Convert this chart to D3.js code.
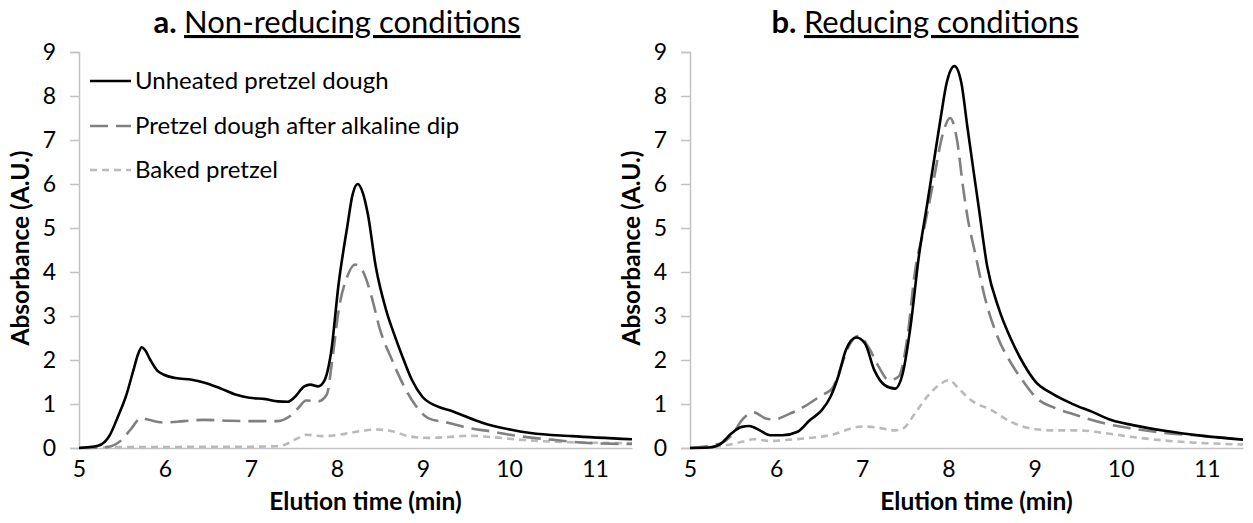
<!DOCTYPE html>
<html><head><meta charset="utf-8">
<script src="https://cdn.jsdelivr.net/npm/d3@7/dist/d3.min.js"></script>
<style>
html,body{margin:0;padding:0;background:#fff;}
svg{display:block;}
text{font-family:Lato,"Open Sans",sans-serif;fill:#000;}
</style></head>
<body>
<svg id="chart" width="1253" height="523"></svg>
<script>
// ---------- DATA ----------
const xTicks = [5, 6, 7, 8, 9, 10, 11];
const yTicks = [0, 1, 2, 3, 4, 5, 6, 7, 8, 9];
const seriesNames = ["Unheated pretzel dough", "Pretzel dough after alkaline dip", "Baked pretzel"];
const panelTitles = [["a.", "Non-reducing conditions"], ["b.", "Reducing conditions"]];

// Panel a: non-reducing  [time (min), absorbance]
const nrUnheated = [[5.0,0],[5.22,0.05],[5.36,0.3],[5.45,0.7],[5.55,1.2],[5.63,1.75],[5.69,2.15],[5.73,2.29],[5.77,2.22],[5.83,2.0],[5.91,1.76],[5.98,1.67],[6.12,1.59],[6.31,1.55],[6.45,1.49],[6.64,1.36],[6.83,1.21],[6.98,1.14],[7.17,1.11],[7.31,1.06],[7.43,1.05],[7.5,1.14],[7.62,1.4],[7.69,1.44],[7.78,1.40],[7.85,1.52],[7.93,2.16],[8.02,3.75],[8.12,5.04],[8.18,5.75],[8.24,6.0],[8.3,5.8],[8.36,5.3],[8.45,4.13],[8.57,3.14],[8.66,2.61],[8.76,2.08],[8.87,1.55],[8.99,1.17],[9.16,0.95],[9.35,0.83],[9.49,0.72],[9.68,0.58],[10.01,0.42],[10.25,0.34],[10.73,0.27],[11.43,0.2]];
const nrAlkaline = [[5.0,0],[5.32,0.02],[5.5,0.19],[5.6,0.42],[5.72,0.68],[5.81,0.64],[5.98,0.58],[6.22,0.61],[6.45,0.64],[6.74,0.62],[7.02,0.61],[7.31,0.61],[7.45,0.72],[7.55,0.91],[7.64,1.08],[7.78,1.06],[7.88,1.21],[7.95,2.08],[8.02,3.14],[8.12,3.9],[8.21,4.17],[8.3,4.02],[8.4,3.45],[8.5,2.69],[8.64,2.0],[8.78,1.4],[8.92,0.95],[9.06,0.68],[9.3,0.57],[9.54,0.45],[9.78,0.38],[10.01,0.30],[10.49,0.19],[10.96,0.11],[11.43,0.09]];
const nrBaked = [[5.0,0.01],[5.5,0.02],[6.0,0.02],[6.5,0.03],[7.0,0.03],[7.3,0.04],[7.4,0.08],[7.55,0.23],[7.64,0.3],[7.83,0.27],[8.02,0.3],[8.26,0.38],[8.47,0.42],[8.64,0.38],[8.83,0.27],[9.06,0.23],[9.3,0.25],[9.54,0.28],[9.78,0.25],[10.25,0.17],[10.73,0.13],[11.43,0.11]];

// Panel b: reducing
const rUnheated = [[5.0,0],[5.22,0.01],[5.36,0.1],[5.48,0.33],[5.6,0.48],[5.69,0.5],[5.81,0.4],[5.93,0.29],[6.07,0.29],[6.25,0.37],[6.39,0.63],[6.53,0.86],[6.63,1.16],[6.72,1.62],[6.81,2.23],[6.93,2.51],[7.03,2.38],[7.14,1.77],[7.26,1.43],[7.38,1.35],[7.47,1.7],[7.56,2.76],[7.66,4.4],[7.75,5.5],[7.83,6.5],[7.91,7.5],[7.98,8.3],[8.07,8.68],[8.15,8.3],[8.22,7.3],[8.29,6.32],[8.35,5.5],[8.45,4.13],[8.59,3.14],[8.73,2.46],[8.87,1.92],[9.01,1.51],[9.2,1.24],[9.43,1.01],[9.67,0.82],[9.9,0.63],[10.14,0.52],[10.51,0.39],[10.98,0.27],[11.42,0.19]];
const rAlkaline = [[5.0,0],[5.36,0.11],[5.5,0.33],[5.6,0.63],[5.74,0.81],[5.88,0.67],[5.97,0.65],[6.16,0.78],[6.35,0.97],[6.53,1.2],[6.65,1.35],[6.74,1.77],[6.84,2.3],[6.96,2.55],[7.07,2.3],[7.19,1.85],[7.31,1.54],[7.42,1.62],[7.52,2.46],[7.61,3.98],[7.73,5.1],[7.83,6.1],[7.93,7.1],[8.02,7.5],[8.1,7.0],[8.17,5.93],[8.22,5.27],[8.31,4.43],[8.43,3.37],[8.57,2.53],[8.73,1.92],[8.87,1.51],[9.01,1.16],[9.25,0.9],[9.48,0.75],[9.81,0.56],[10.14,0.44],[10.51,0.34],[10.98,0.27],[11.42,0.19]];
const rBaked = [[5.0,0],[5.41,0.06],[5.6,0.14],[5.74,0.2],[5.93,0.16],[6.16,0.19],[6.44,0.24],[6.67,0.31],[6.86,0.44],[7.0,0.49],[7.19,0.46],[7.38,0.40],[7.47,0.44],[7.61,0.78],[7.75,1.16],[7.89,1.43],[8.01,1.54],[8.12,1.35],[8.26,1.09],[8.5,0.86],[8.73,0.59],[8.97,0.44],[9.25,0.40],[9.53,0.40],[9.81,0.34],[10.14,0.25],[10.51,0.17],[10.98,0.11],[11.42,0.08]];

// ---------- STYLES ----------
const styles = [
  {stroke:"#000000", width:2.6, dash:null},
  {stroke:"#808080", width:2.6, dash:"18,8"},
  {stroke:"#bababa", width:2.6, dash:"7,5"}
];

const svg = d3.select("#chart");
const panels = [
  {x0:79, x1:632, xmax:11.43, series:[nrUnheated, nrAlkaline, nrBaked], legend:true, title:panelTitles[0], titleX:337},
  {x0:690, x1:1243, xmax:11.42, series:[rUnheated, rAlkaline, rBaked], legend:false, title:panelTitles[1], titleX:925}
];
const yTop = 52, yBot = 448;
const axisColor = "#c3c3c3";

panels.forEach(p => {
  const x = d3.scaleLinear().domain([5, p.xmax]).range([p.x0, p.x1]);
  const y = d3.scaleLinear().domain([0, 9]).range([yBot, yTop]);
  const g = svg.append("g");

  // y axis
  const ya = g.append("g").attr("transform", `translate(${p.x0},0)`)
    .call(d3.axisLeft(y).tickValues(yTicks).tickSize(9).tickPadding(14).tickFormat(d3.format("d")));
  ya.select(".domain").attr("stroke", axisColor).attr("stroke-width", 1.5);
  ya.selectAll(".tick line").attr("stroke", axisColor).attr("stroke-width", 1.5);
  ya.selectAll(".tick text").attr("font-size", 23).attr("font-family", "Lato").attr("fill", "#000");

  // x axis
  const xa = g.append("g").attr("transform", `translate(0,${yBot})`)
    .call(d3.axisBottom(x).tickValues(xTicks).tickSize(0).tickPadding(13).tickSizeOuter(0).tickFormat(d3.format("d")));
  xa.select(".domain").attr("stroke", axisColor).attr("stroke-width", 1.5);
  xa.selectAll(".tick text").attr("font-size", 23).attr("font-family", "Lato").attr("fill", "#000");

  // lines (draw lighter first)
  const line = d3.line().x(d => x(d[0])).y(d => y(d[1])).curve(d3.curveMonotoneX);
  [2, 1, 0].forEach(i => {
    const s = styles[i];
    g.append("path").datum(p.series[i]).attr("d", line)
      .attr("fill", "none").attr("stroke", s.stroke).attr("stroke-width", s.width)
      .attr("stroke-dasharray", s.dash).attr("stroke-linejoin", "round");
  });

  // axis titles
  const cx = (p.x0 + p.x1) / 2;
  g.append("text").attr("x", cx + 10).attr("y", 510).attr("text-anchor", "middle")
    .attr("font-size", 24.5).attr("font-weight", "bold").text("Elution time (min)");
  g.append("text").attr("transform", `translate(${p.x0 - 50},${(yTop + yBot) / 2 - 2}) rotate(-90)`)
    .attr("text-anchor", "middle").attr("font-size", 24.5).attr("font-weight", "bold").text("Absorbance (A.U.)");

  // title
  const t = g.append("text").attr("x", p.titleX).attr("y", 33).attr("text-anchor", "middle").attr("font-size", 31);
  t.append("tspan").attr("font-weight", "bold").text(p.title[0] + " ");
  t.append("tspan").attr("text-decoration", "underline").text(p.title[1]);

  // legend
  if (p.legend) {
    const rows = [81, 126, 170];
    seriesNames.forEach((name, i) => {
      const s = styles[i];
      g.append("line").attr("x1", 90).attr("x2", 131).attr("y1", rows[i]).attr("y2", rows[i])
        .attr("stroke", s.stroke).attr("stroke-width", s.width).attr("stroke-dasharray", s.dash);
      g.append("text").attr("x", 135).attr("y", rows[i]).attr("dy", "0.35em")
        .attr("font-size", 24).text(name);
    });
  }
});
</script>
</body></html>
